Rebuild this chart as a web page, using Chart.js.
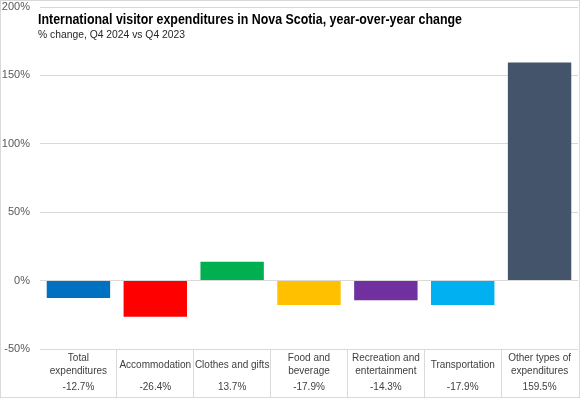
<!DOCTYPE html>
<html>
<head>
<meta charset="utf-8">
<script src="https://cdn.jsdelivr.net/npm/chart.js@4.4.1/dist/chart.umd.min.js"></script>
<style>
  html, body { margin: 0; padding: 0; background: #fff; }
  #wrap { width: 580px; height: 398px; position: relative; }
</style>
</head>
<body>
<div id="wrap"><canvas id="chart"></canvas></div>
<script>
// Data
const categories = [
  ['Total', 'expenditures'],
  ['Accommodation'],
  ['Clothes and gifts'],
  ['Food and', 'beverage'],
  ['Recreation and', 'entertainment'],
  ['Transportation'],
  ['Other types of', 'expenditures']
];
const changes = [-12.7, -26.4, 13.7, -17.9, -14.3, -17.9, 159.5];
const valueLabels = ['-12.7%', '-26.4%', '13.7%', '-17.9%', '-14.3%', '-17.9%', '159.5%'];
const barColors = ['#0070C0', '#FF0000', '#00B050', '#FFC000', '#7030A0', '#00B0F0', '#44546A'];

const titleText = 'International visitor expenditures in Nova Scotia, year-over-year change';
const subtitleText = '% change, Q4 2024 vs Q4 2023';

// draws title, category table labels and outer border
const decorations = {
  id: 'decorations',
  afterDraw(chart) {
    const ctx = chart.ctx;
    const x = chart.scales.x;
    ctx.save();

    // outer frame
    ctx.strokeStyle = '#d9d9d9';
    ctx.lineWidth = 1;
    ctx.strokeRect(0.5, 0.5, chart.width - 1, chart.height - 1);

    // title block
    ctx.textAlign = 'left';
    ctx.textBaseline = 'alphabetic';
    ctx.fillStyle = '#000';
    ctx.font = 'bold 15px "Liberation Sans Narrow", "Liberation Sans", sans-serif';
    ctx.fillText(titleText, 38, 24, 424);
    ctx.fillStyle = '#262626';
    ctx.font = '11px "Liberation Sans Narrow", "Liberation Sans", sans-serif';
    ctx.fillText(subtitleText, 38, 37.5, 147);

    // category labels under the axis
    ctx.textAlign = 'center';
    ctx.fillStyle = '#404040';
    ctx.font = '10px "Liberation Sans", sans-serif';
    categories.forEach((lines, i) => {
      const cx = x.getPixelForValue(i);
      if (lines.length === 2) {
        ctx.fillText(lines[0], cx, 361);
        ctx.fillText(lines[1], cx, 374);
      } else {
        ctx.fillText(lines[0], cx, 367.5);
      }
      ctx.fillText(valueLabels[i], cx, 390);
    });
    ctx.restore();
  }
};

new Chart(document.getElementById('chart'), {
  type: 'bar',
  data: {
    labels: categories.map(c => c.join(' ')),
    datasets: [{
      data: changes,
      backgroundColor: barColors,
      borderWidth: 0,
      barPercentage: 0.825,
      categoryPercentage: 1
    }]
  },
  options: {
    responsive: true,
    maintainAspectRatio: false,
    animation: false,
    layout: { padding: { left: 0, right: 2, top: 7, bottom: 0 } },
    plugins: {
      legend: { display: false },
      tooltip: { enabled: false }
    },
    scales: {
      x: {
        offset: true,
        border: { display: false },
        grid: {
          offset: true,
          drawOnChartArea: false,
          drawTicks: true,
          tickLength: 49,
          color: c => (c.type === 'tick' && c.index > 0) ? '#d9d9d9' : 'rgba(0,0,0,0)'
        },
        ticks: { display: false }
      },
      y: {
        min: -50,
        max: 200,
        border: { display: false },
        grid: { color: '#d9d9d9', drawTicks: false },
        afterFit: s => { s.width = 40; s.paddingTop = 0; s.paddingBottom = 0; },
        ticks: {
          stepSize: 50,
          padding: 10,
          color: '#595959',
          font: { family: '"Liberation Sans", sans-serif', size: 11 },
          callback: v => v + '%'
        }
      }
    }
  },
  plugins: [decorations]
});
</script>
</body>
</html>
